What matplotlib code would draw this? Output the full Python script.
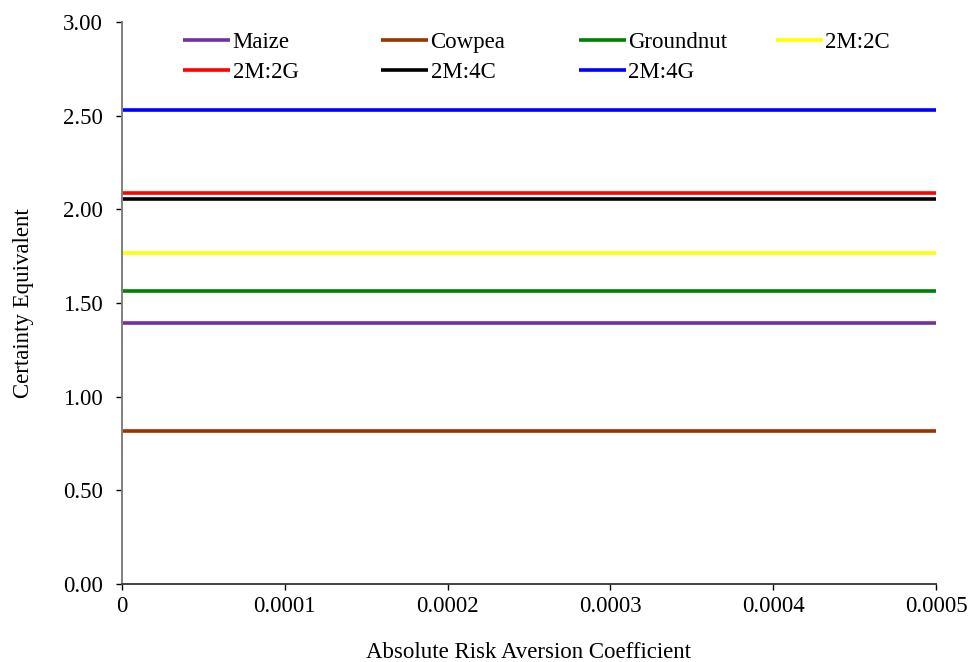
import matplotlib
matplotlib.use("Agg")
import matplotlib.pyplot as plt
from matplotlib.ticker import FixedLocator, FixedFormatter

plt.rcParams['font.family'] = ['Liberation Serif', 'DejaVu Serif']

x_vals = [0, 0.0001, 0.0002, 0.0003, 0.0004, 0.0005]
x_labels = ["0", "0.0001", "0.0002", "0.0003", "0.0004", "0.0005"]
y_ticks = [0.0, 0.5, 1.0, 1.5, 2.0, 2.5, 3.0]
y_labels = ["0.00", "0.50", "1.00", "1.50", "2.00", "2.50", "3.00"]

maize = [1.392, 1.392, 1.392, 1.392, 1.392, 1.392]
cowpea = [0.816, 0.816, 0.816, 0.816, 0.816, 0.816]
groundnut = [1.563, 1.563, 1.563, 1.563, 1.563, 1.563]
m2c2 = [1.766, 1.766, 1.766, 1.766, 1.766, 1.766]
m2g2 = [2.088, 2.088, 2.088, 2.088, 2.088, 2.088]
m2c4 = [2.057, 2.057, 2.057, 2.057, 2.057, 2.057]
m2g4 = [2.528, 2.528, 2.528, 2.528, 2.528, 2.528]

series_names = ["Maize", "Cowpea", "Groundnut", "2M:2C", "2M:2G", "2M:4C", "2M:4G"]
series_vals = [maize, cowpea, groundnut, m2c2, m2g2, m2c4, m2g4]
series_colors = ["#7030A0", "#993300", "#008000", "#FFFF00", "#FF0000", "#000000", "#0000FF"]

FS = 16.5

fig = plt.figure(figsize=(9.69, 6.62), dpi=100)
ax = fig.add_axes([122/969, 1-584/662, (936-122)/969, (584-22)/662])

handles = {}
for name, vals, col in zip(series_names, series_vals, series_colors):
    h, = ax.plot(x_vals, vals, color=col, lw=2.6, solid_capstyle='butt', label=name)
    handles[name] = h

ax.set_xlim(0, 0.0005)
ax.set_ylim(0, 3.0)
ax.xaxis.set_major_locator(FixedLocator(x_vals))
ax.xaxis.set_major_formatter(FixedFormatter(x_labels))
ax.yaxis.set_major_locator(FixedLocator(y_ticks))
ax.yaxis.set_major_formatter(FixedFormatter(y_labels))

for s in ['top', 'right']:
    ax.spines[s].set_visible(False)
ax.spines['left'].set_color('#808080')
ax.spines['left'].set_linewidth(1.4)
ax.spines['bottom'].set_color('#404040')
ax.spines['bottom'].set_linewidth(1.4)
ax.tick_params(axis='both', direction='out', length=4, width=1, labelsize=FS, colors='black')
ax.tick_params(axis='x', pad=5)
ax.tick_params(axis='y', pad=9.5)

ax.set_ylabel("Certainty Equivalent", fontsize=FS)
ax.yaxis.set_label_coords(-0.108, 0.5)
ax.set_xlabel("Absolute Risk Aversion Coefficient", fontsize=FS)
ax.xaxis.set_label_coords(0.5, -0.103)

columns = [["Maize", "2M:2G"], ["Cowpea", "2M:4C"], ["Groundnut", "2M:4G"], ["2M:2C"]]
col_x = [0.075, 0.318, 0.561, 0.803]
legs = []
for names, cx in zip(columns, col_x):
    leg = ax.legend([handles[n] for n in names], names, loc='upper left',
                    bbox_to_anchor=(cx, 0.982), frameon=False, borderpad=0,
                    borderaxespad=0, handlelength=2.05, handletextpad=0.12,
                    labelspacing=0.4, fontsize=FS)
    legs.append(leg)
for leg in legs[:-1]:
    ax.add_artist(leg)

fig.savefig("out.png", dpi=100)
